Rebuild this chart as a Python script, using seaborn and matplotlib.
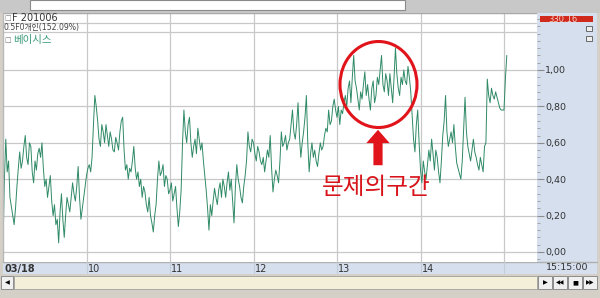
import numpy as np
import pandas as pd
import matplotlib
matplotlib.use("Agg")
import matplotlib.pyplot as plt
from matplotlib.patches import Rectangle, Ellipse
from matplotlib.lines import Line2D
import seaborn as sns

sns.set_style("white")
plt.rcParams['font.family'] = ['DejaVu Sans', 'Noto Sans CJK KR']

# ---------------- data (1-minute basis, from 09:00) ----------------
basis_0900 = [
    0.02, 0.40, 0.62, 0.44, 0.50, 0.30, 0.25, 0.20, 0.15, 0.24, 0.36, 0.46, 0.55, 0.46, 0.50,
    0.58, 0.64, 0.52, 0.48, 0.60, 0.58, 0.44, 0.38, 0.50, 0.45, 0.54, 0.57, 0.52, 0.60, 0.46,
    0.36, 0.40, 0.30, 0.36, 0.42, 0.28, 0.20, 0.26, 0.15, 0.18, 0.05, 0.22, 0.32, 0.18, 0.08,
    0.20, 0.30, 0.26, 0.22, 0.30, 0.38, 0.32, 0.28, 0.36, 0.47, 0.30, 0.18, 0.24, 0.30, 0.36,
]
basis_1000 = [
    0.42, 0.46, 0.48, 0.44, 0.52, 0.70, 0.86, 0.80, 0.72, 0.62, 0.58, 0.70, 0.66, 0.60, 0.70,
    0.64, 0.58, 0.66, 0.62, 0.56, 0.55, 0.63, 0.60, 0.56, 0.66, 0.72, 0.74, 0.56, 0.45, 0.48,
    0.40, 0.46, 0.44, 0.50, 0.58, 0.46, 0.40, 0.44, 0.36, 0.40, 0.30, 0.36, 0.33, 0.26, 0.22,
    0.30, 0.20, 0.16, 0.11, 0.20, 0.26, 0.40, 0.50, 0.42, 0.44, 0.48, 0.36, 0.42, 0.40, 0.32,
]
basis_1100 = [
    0.34, 0.38, 0.28, 0.32, 0.36, 0.24, 0.14, 0.22, 0.34, 0.60, 0.78, 0.66, 0.60, 0.70, 0.74,
    0.60, 0.52, 0.58, 0.62, 0.54, 0.68, 0.62, 0.56, 0.60, 0.50, 0.42, 0.34, 0.24, 0.12, 0.26,
    0.20, 0.28, 0.35, 0.30, 0.26, 0.34, 0.38, 0.30, 0.40, 0.36, 0.30, 0.38, 0.44, 0.34, 0.40,
    0.28, 0.16, 0.36, 0.48, 0.40, 0.36, 0.30, 0.27, 0.36, 0.42, 0.50, 0.66, 0.58, 0.55, 0.62,
]
basis_1200 = [
    0.60, 0.54, 0.50, 0.58, 0.55, 0.50, 0.48, 0.52, 0.44, 0.50, 0.56, 0.52, 0.64, 0.46, 0.33,
    0.40, 0.45, 0.42, 0.38, 0.50, 0.66, 0.58, 0.60, 0.64, 0.56, 0.60, 0.62, 0.70, 0.78, 0.66,
    0.62, 0.70, 0.82, 0.64, 0.52, 0.60, 0.66, 0.74, 0.86, 0.60, 0.44, 0.54, 0.60, 0.52, 0.56,
    0.50, 0.47, 0.54, 0.60, 0.56, 0.58, 0.64, 0.68, 0.66, 0.78, 0.70, 0.72, 0.80, 0.84, 0.78,
]
basis_1300 = [
    0.74, 0.80, 0.70, 0.78, 0.76, 0.82, 0.86, 0.80, 0.90, 0.94, 0.82, 0.96, 1.08, 0.94, 0.90,
    0.84, 0.78, 0.88, 0.84, 0.92, 0.99, 0.86, 0.92, 0.84, 0.78, 0.90, 0.94, 0.82, 0.86, 0.96,
    0.92, 1.00, 1.08, 0.92, 0.88, 0.98, 0.94, 0.86, 0.98, 0.90, 0.82, 0.96, 1.12, 0.98, 0.90,
    0.86, 0.96, 0.92, 1.00, 0.94, 0.92, 1.02, 0.96, 0.88, 0.75, 0.62, 0.55, 0.70, 0.78, 0.60,
]
basis_1400 = [
    0.45, 0.38, 0.50, 0.44, 0.40, 0.48, 0.56, 0.50, 0.62, 0.54, 0.45, 0.56, 0.52, 0.44, 0.38,
    0.50, 0.64, 0.72, 0.86, 0.66, 0.58, 0.62, 0.66, 0.60, 0.70, 0.58, 0.49, 0.46, 0.43, 0.40,
    0.50, 0.68, 0.85, 0.66, 0.58, 0.54, 0.50, 0.56, 0.62, 0.55, 0.52, 0.48, 0.45, 0.52, 0.48,
    0.44, 0.58, 0.60, 0.95, 0.86, 0.82, 0.90, 0.86, 0.84, 0.88, 0.85, 0.82, 0.79, 0.78, 0.78,
    0.78, 0.95, 1.08,
]
basis = basis_0900 + basis_1000 + basis_1100 + basis_1200 + basis_1300 + basis_1400
minutes = np.arange(len(basis))              # minutes after 09:00
hour_ticks = [0, 60, 120, 180, 240, 300]
hour_labels = ["03/18", "10", "11", "12", "13", "14"]
y_ticks = [0.0, 0.2, 0.4, 0.6, 0.8, 1.0]
y_labels = ["0,00", "0,20", "0,40", "0,60", "0,80", "1,00"]
series_name = "베이시스"
header1 = "F 201006"
header2 = "0.5F0개인(152.09%)"
last_price = "330.16"
clock = "15:15:00"
note = "문제의구간"

df = pd.DataFrame({"minute": minutes, "basis": basis})

W, H = 600, 298
def box(x0, y0, x1, y1):
    return [x0 / W, 1 - y1 / H, (x1 - x0) / W, (y1 - y0) / H]

fig = plt.figure(figsize=(6.0, 2.98), dpi=100)
fig.patch.set_facecolor("#d4d0c8")

# top window strip and white input box
fig.patches.append(Rectangle((0, 1 - 13 / H), 1, 13 / H, transform=fig.transFigure,
                             facecolor="#c8c8c8", edgecolor="none", zorder=-2))
fig.patches.append(Rectangle((30 / W, 1 - 10 / H), 375 / W, 10 / H, transform=fig.transFigure,
                             facecolor="white", edgecolor="#8a8a8a", lw=0.8, zorder=-1))
# right value panel (blue)
fig.patches.append(Rectangle((537 / W, 1 - 274 / H), 60 / W, 261 / H, transform=fig.transFigure,
                             facecolor="#d5dfee", edgecolor="none", zorder=-2))

# ---------------- main chart ----------------
x_per_min = 83.5 / 60.0
xmax = (537 - 3) / x_per_min
ymin = (252 - 262) / 182.0
ymax = (252 - 13) / 182.0

ax = fig.add_axes(box(3, 13, 537, 262))
ax.set_facecolor("white")
sns.lineplot(data=df, x="minute", y="basis", ax=ax, color="#2f8a66", linewidth=0.7,
             estimator=None, legend=False)
ax.set_xlim(0, xmax)
ax.set_ylim(ymin, ymax)
ax.set_xlabel("")
ax.set_ylabel("")
for s in ["top", "right", "bottom"]:
    ax.spines[s].set_visible(False)
ax.spines["left"].set_color("#b8b8b8")
ax.spines["left"].set_linewidth(1.0)

ax.set_xticks(hour_ticks[1:] + [360])
ax.set_xticklabels([])
ax.tick_params(axis="x", length=0)
ax.yaxis.tick_right()
ax.set_yticks(y_ticks)
ax.set_yticklabels(y_labels)
ax.set_yticks(np.arange(-0.04, 1.30, 0.04), minor=True)
ax.tick_params(axis="y", which="major", length=5, width=0.8, color="#8c8c8c", pad=1,
               labelsize=6.8, labelcolor="#333333", direction="out")
ax.tick_params(axis="y", which="minor", length=2, width=0.6, color="#9a9a9a", direction="out")
ax.grid(True, axis="both", which="major", color="#c8c8c8", linewidth=0.9)
ax.set_axisbelow(True)

# header row separators
for yy in (22.5, 31.5):
    ax.plot([0, 1], [1 - (yy - 13) / 249, 1 - (yy - 13) / 249], transform=ax.transAxes,
            color="#c8c8c8", lw=0.9, zorder=1)
ax.plot([0, 1], [1, 1], transform=ax.transAxes, color="#a8a8a8", lw=1.0, zorder=1)

# header texts
fig.text(4 / W, 1 - 18 / H, "□", fontsize=5, color="#777777", va="center")
fig.text(12 / W, 1 - 18 / H, header1, fontsize=7, color="#333333", va="center")
fig.text(4 / W, 1 - 27.3 / H, header2, fontsize=5.6, color="#444444", va="center",
         family=["DejaVu Sans", "Noto Sans CJK KR"])
fig.text(4 / W, 1 - 40 / H, "□", fontsize=5, color="#777777", va="center")
fig.text(13 / W, 1 - 40 / H, series_name, fontsize=7.5, color="#3a9a78", va="center",
         family=["Noto Sans CJK KR", "DejaVu Sans"])

# red price box + small icons in right panel
fig.patches.append(Rectangle((540 / W, 1 - 22 / H), 53 / W, 6.5 / H, transform=fig.transFigure,
                             facecolor="#d02a1c", edgecolor="none", zorder=2))
fig.text(548 / W, 1 - 19 / H, last_price, fontsize=6, color="#f4d0c8", va="center", zorder=3)
for yy in (26, 36):
    fig.patches.append(Rectangle((586 / W, 1 - (yy + 5) / H), 6 / W, 5 / H,
                                 transform=fig.transFigure, facecolor="#eeeeee",
                                 edgecolor="#555555", lw=0.6, zorder=2))

# ---------------- annotation ----------------
def val(py):
    return (252 - py) / 182.0
def mins(px):
    return (px - 3) / x_per_min

ax.add_patch(Ellipse((mins(378.5), val(84.5)), width=77 / x_per_min, height=86 / 182.0,
                     fill=False, edgecolor="#e0141a", lw=2.2, zorder=5))
ax.annotate("", xy=(mins(378), val(127)), xytext=(mins(378), val(168)),
            arrowprops=dict(arrowstyle="simple,head_width=1.4,head_length=0.8,tail_width=0.55",
                            mutation_scale=12, color="#e0141a", lw=0), zorder=5)
ax.text(mins(376), val(188), note, fontsize=17, color="#d8141a", ha="center", va="center",
        family=["Noto Sans CJK KR", "DejaVu Sans"], zorder=5)

# ---------------- time label band ----------------
bx = fig.add_axes(box(3, 262, 537, 274))
bx.set_facecolor("#d5dfee")
bx.set_xlim(0, xmax)
bx.set_ylim(0, 1)
bx.set_xticks([])
bx.set_yticks([])
for s in bx.spines.values():
    s.set_visible(False)
bx.plot([0, 1], [1, 1], transform=bx.transAxes, color="#b0b0b0", lw=1.0)
for t in hour_ticks[1:] + [360]:
    bx.axvline(t, color="#c4ccd8", lw=0.8)
for t, lab in zip(hour_ticks, hour_labels):
    bx.text(t + 1.0, 0.45, lab, fontsize=7, color="#333333", va="center", ha="left",
            fontweight="bold" if lab == "03/18" else "normal")
fig.text(567 / W, 1 - 268 / H, clock, fontsize=6.8, color="#333333", ha="center", va="center")
fig.lines.append(Line2D([537 / W, 597 / W], [1 - 262 / H, 1 - 262 / H],
                        transform=fig.transFigure, color="#b0b0b0", lw=1.0))

# ---------------- scrollbar ----------------
fig.patches.append(Rectangle((14 / W, 1 - 289 / H), 523 / W, 13 / H, transform=fig.transFigure,
                             facecolor="#f3efd9", edgecolor="#a0a0a0", lw=0.6, zorder=1))
btns = [(1, 13, "◀"), (538, 552, "▶"), (553, 567, "◀◀"), (568, 582, "■"), (583, 597, "▶▶")]
for x0, x1, g in btns:
    fig.patches.append(Rectangle((x0 / W, 1 - 289 / H), (x1 - x0) / W, 13 / H,
                                 transform=fig.transFigure, facecolor="#f0f0f0",
                                 edgecolor="#808080", lw=0.6, zorder=1))
    fig.text((x0 + x1) / 2 / W, 1 - 282.5 / H, g, fontsize=4 if len(g) > 1 else 4.5,
             color="black", ha="center", va="center", zorder=3)

fig.savefig("out.png", dpi=100, facecolor=fig.get_facecolor())
